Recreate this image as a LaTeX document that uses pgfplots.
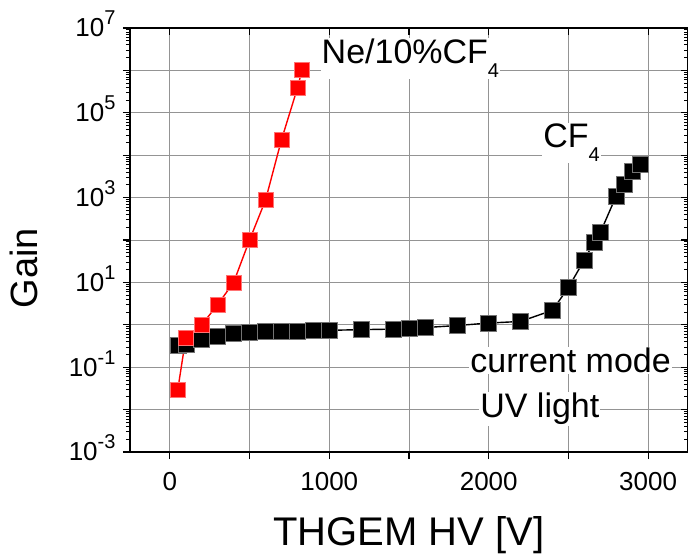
\documentclass[border=0pt]{standalone}
\usepackage{pgfplots}
\pgfplotsset{compat=1.18}
\usepackage{fontspec}
\setmainfont{Liberation Sans}

% power-of-ten tick label with a large raised exponent
\newcommand{\dec}[1]{10\smash{\raisebox{12pt}{\fontsize{20}{20}\selectfont #1}}}
\newcommand{\subf}{\raisebox{-14pt}{\fontsize{20}{20}\selectfont 4}}

\begin{document}
\begin{tikzpicture}
\begin{axis}[
    name=main,
    scale only axis, width=558pt, height=424pt,
    xmin=-250, xmax=3250,
    ymode=log, ymin=1e-3, ymax=1e7,
    xtick={0,500,...,3000},
    ytickten={-3,...,7},
    axis line style={line width=2pt},
    major tick length=7pt, minor tick length=4pt,
    every tick/.style={black, line width=1.2pt},
    every minor tick/.style={black, line width=0.9pt},
    tick align=outside,
    xtick pos=lower, ytick pos=left,
    xticklabels={0,,1000,,2000,,3000},
    yticklabels={\dec{-3},,\dec{-1},,\dec{1},,\dec{3},,\dec{5},,\dec{7}},
    ticklabel style={font=\fontsize{26}{30}\selectfont},
    xticklabel style={yshift=-10pt},
    yticklabel style={xshift=-4pt},
    grid=major,
    major grid style={black!42, line width=0.9pt},
]
\coordinate (sw) at (rel axis cs:0,0);

% CF4
\addplot[black, line width=1.4pt,
  mark=square*, mark size=8pt,
  mark options={fill=black, draw=black!55, line width=0.5pt}]
coordinates {
  (50,0.33) (100,0.34) (200,0.46) (300,0.55) (400,0.64) (500,0.68)
  (600,0.69) (700,0.71) (800,0.72) (900,0.73) (1000,0.74) (1200,0.77)
  (1400,0.79) (1500,0.83) (1600,0.86) (1800,0.96) (2000,1.1) (2200,1.2)
  (2400,2.2) (2500,7.6) (2600,34) (2660,89) (2700,150) (2800,1100)
  (2850,2100) (2900,4100) (2950,6200)
};

% Ne/10%CF4
\addplot[red, line width=1.4pt,
  mark=square*, mark size=7.5pt,
  mark options={fill=red, draw=red!55!white, line width=0.5pt}]
coordinates {
  (50,0.03) (100,0.49) (200,1.0) (300,3.0) (400,10) (500,100)
  (600,870) (700,23000) (800,380000) (830,1.05e6)
};

\node[anchor=base west, fill=white, inner sep=1pt, font=\fontsize{34}{40}\selectfont]
  at (axis cs:945,1.45e6) {Ne/10\%CF\subf};
\node[anchor=base west, fill=white, inner sep=1pt, font=\fontsize{34}{40}\selectfont]
  at (axis cs:2335,1.48e4) {CF\subf};
\node[anchor=base west, fill=white, inner sep=1pt, font=\fontsize{34}{40}\selectfont]
  at (axis cs:1878,0.074) {current mode};
\node[anchor=base west, fill=white, inner sep=1pt, font=\fontsize{34}{40}\selectfont]
  at (axis cs:1940,0.0065) {UV light};
\end{axis}

% inward ticks on the top and right sides
\begin{axis}[
    scale only axis, width=558pt, height=424pt,
    xmin=-250, xmax=3250,
    ymode=log, ymin=1e-3, ymax=1e7,
    xtick={0,500,...,3000},
    ytickten={-3,...,7},
    axis line style={line width=2pt},
    major tick length=7pt, minor tick length=4pt,
    every tick/.style={black, line width=1.2pt},
    every minor tick/.style={black, line width=0.9pt},
    tick align=inside,
    xtick pos=upper, ytick pos=right,
    xticklabels={}, yticklabels={},
]
\end{axis}

\node[rotate=90, font=\fontsize{38}{44}\selectfont]
  at ([shift={(-106pt,184pt)}]sw) {Gain};
\node[anchor=base, font=\fontsize{40}{46}\selectfont]
  at ([shift={(279pt,-93pt)}]sw) {THGEM HV [V]};

\pgfresetboundingbox
\path ([shift={(-130pt,-102pt)}]sw) rectangle ([shift={(558pt,452pt)}]sw);
\end{tikzpicture}
\end{document}
